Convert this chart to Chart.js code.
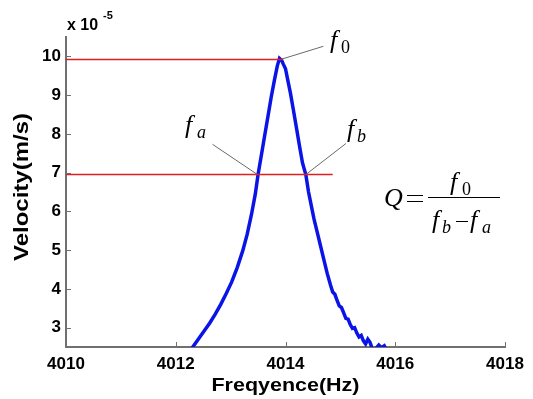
<!DOCTYPE html>
<html>
<head>
<meta charset="utf-8">
<script src="https://cdn.jsdelivr.net/npm/chart.js@4/dist/chart.umd.min.js"></script>
<style>
  html, body { margin: 0; padding: 0; background: #fff; }
</style>
</head>
<body>
<canvas id="myChart" width="533" height="399"></canvas>
<script>
// frequency (Hz) and velocity (x 1e-5 m/s)
const freqs = [4012.25, 4012.32, 4012.42, 4012.52, 4012.62, 4012.72, 4012.82, 4012.92, 4013.02, 4013.12,
  4013.22, 4013.30, 4013.38, 4013.45, 4013.50, 4013.56, 4013.62, 4013.68, 4013.74, 4013.80,
  4013.85, 4013.89, 4013.93, 4013.96, 4014.00, 4014.04, 4014.09, 4014.14, 4014.20, 4014.26,
  4014.31, 4014.37, 4014.42, 4014.47, 4014.52, 4014.58, 4014.64, 4014.70, 4014.76, 4014.82,
  4014.86, 4014.90, 4014.94, 4014.98, 4015.02, 4015.06, 4015.10, 4015.14, 4015.18, 4015.22,
  4015.26, 4015.30, 4015.34, 4015.38, 4015.42, 4015.46, 4015.50, 4015.54, 4015.58, 4015.64,
  4015.70, 4015.75, 4015.80, 4015.85];
const velocity = [2.38, 2.52, 2.72, 2.92, 3.12, 3.35, 3.60, 3.88, 4.18, 4.55,
  4.98, 5.40, 5.92, 6.45, 6.95, 7.45, 7.95, 8.45, 8.95, 9.40,
  9.75, 9.95, 9.90, 9.80, 9.68, 9.40, 9.05, 8.65, 8.15, 7.65,
  7.25, 6.95, 6.50, 6.15, 5.80, 5.45, 5.10, 4.75, 4.40, 4.10,
  3.92, 3.86, 3.70, 3.56, 3.52, 3.38, 3.24, 3.22, 3.08, 2.98,
  3.00, 2.86, 2.76, 2.80, 2.66, 2.58, 2.70, 2.62, 2.46, 2.45,
  2.55, 2.48, 2.53, 2.40];

const xTicks = [4010, 4012, 4014, 4016, 4018];
const yTicks = [3, 4, 5, 6, 7, 8, 9, 10];

// reference levels
const peakLevelX = [4010, 4013.95];
const peakLevelY = [9.92, 9.92];
const halfLevelX = [4010, 4014.86];
const halfLevelY = [6.95, 6.95];

// leader lines for the f0 / fa / fb labels
const f0LeaderX = [4013.91, 4014.69];
const f0LeaderY = [9.92, 10.26];
const faLeaderX = [4012.67, 4013.49];
const faLeaderY = [7.73, 6.95];
const fbLeaderX = [4014.37, 4015.10];
const fbLeaderY = [6.95, 7.75];

const toPts = (xs, ys) => xs.map((x, i) => ({ x: x, y: ys[i] }));

const serif = "'Liberation Serif', 'Times New Roman', serif";
const sans = "'Liberation Sans', Arial, sans-serif";

function fLabel(ctx, x, y, sub, gap) {
  ctx.font = "italic 26px " + serif;
  ctx.fillText("f", x, y);
  ctx.font = (sub === "0" ? "" : "italic ") + "18px " + serif;
  ctx.fillText(sub, x + gap, y + 5);
}

// stretched bold text, drawn along the given angle
function stretchedText(ctx, text, cx, cy, size, length, angle) {
  ctx.save();
  ctx.font = "bold " + size + "px " + sans;
  const w = ctx.measureText(text).width;
  ctx.translate(cx, cy);
  ctx.rotate(angle);
  ctx.scale(length / w, 1);
  ctx.textAlign = "center";
  ctx.textBaseline = "middle";
  ctx.fillText(text, 0, 0);
  ctx.restore();
}

const decorations = {
  id: "decorations",
  afterDraw(chart) {
    const ctx = chart.ctx;
    const xs = chart.scales.x, ys = chart.scales.y;
    const area = chart.chartArea;
    ctx.save();

    // inward tick marks
    ctx.strokeStyle = "#707070";
    ctx.lineWidth = 1;
    ctx.beginPath();
    xTicks.forEach(v => {
      const px = Math.round(xs.getPixelForValue(v)) + 0.5;
      ctx.moveTo(px, area.bottom);
      ctx.lineTo(px, area.bottom - 5);
    });
    yTicks.forEach(v => {
      const py = Math.round(ys.getPixelForValue(v)) + 0.5;
      ctx.moveTo(area.left, py);
      ctx.lineTo(area.left + 5, py);
    });
    ctx.stroke();

    ctx.fillStyle = "#000";
    ctx.textBaseline = "alphabetic";

    // axis titles
    stretchedText(ctx, "Freqyence(Hz)", (area.left + area.right) / 2, 386, 19, 148, 0);
    stretchedText(ctx, "Velocity(m/s)", 22, 187, 20, 148, -Math.PI / 2);

    // exponent label
    ctx.font = "bold 16px " + sans;
    ctx.fillText("x 10", 67, 30);
    ctx.font = "bold 11px " + sans;
    ctx.fillText("-5", 103, 19);

    // f labels next to leader lines
    fLabel(ctx, 330, 48, "0", 11);
    fLabel(ctx, 185, 133, "a", 12);
    fLabel(ctx, 347, 137, "b", 10);

    // Q formula
    ctx.font = "italic 26px " + serif;
    ctx.fillText("Q", 384, 206);
    ctx.strokeStyle = "#000";
    ctx.lineWidth = 1;
    ctx.beginPath();
    ctx.moveTo(407, 195.5);
    ctx.lineTo(423, 195.5);
    ctx.moveTo(407, 201.5);
    ctx.lineTo(423, 201.5);
    ctx.moveTo(428, 197.5);
    ctx.lineTo(500, 197.5);
    ctx.moveTo(456, 221.5);
    ctx.lineTo(468, 221.5);
    ctx.stroke();
    fLabel(ctx, 450, 190, "0", 12);
    fLabel(ctx, 432, 228, "b", 10);
    fLabel(ctx, 470, 228, "a", 12);

    ctx.restore();
  }
};

const ctx = document.getElementById("myChart").getContext("2d");
new Chart(ctx, {
  type: "line",
  data: {
    datasets: [
      { data: toPts(peakLevelX, peakLevelY), borderColor: "#e02020", borderWidth: 1.5, pointRadius: 0 },
      { data: toPts(halfLevelX, halfLevelY), borderColor: "#e02020", borderWidth: 1.5, pointRadius: 0 },
      { data: toPts(f0LeaderX, f0LeaderY), borderColor: "#6a6a6a", borderWidth: 1, pointRadius: 0 },
      { data: toPts(faLeaderX, faLeaderY), borderColor: "#6a6a6a", borderWidth: 1, pointRadius: 0 },
      { data: toPts(fbLeaderX, fbLeaderY), borderColor: "#6a6a6a", borderWidth: 1, pointRadius: 0 },
      { data: toPts(freqs, velocity), borderColor: "#0b14e6", borderWidth: 3.5, pointRadius: 0, tension: 0 }
    ]
  },
  options: {
    responsive: false,
    animation: false,
    layout: { padding: { top: 37, right: 28, left: 0, bottom: 0 } },
    plugins: {
      legend: { display: false },
      tooltip: { enabled: false }
    },
    scales: {
      x: {
        type: "linear",
        min: 4010,
        max: 4018,
        afterBuildTicks: (scale) => { scale.ticks = xTicks.map(v => ({ value: v })); },
        afterFit: (scale) => { scale.height = 52; },
        grid: { drawOnChartArea: false, drawTicks: false },
        border: { color: "#707070", width: 2 },
        ticks: {
          color: "#000",
          padding: 7,
          maxRotation: 0,
          callback: (v) => String(v),
          font: { family: sans, size: 17, weight: "bold" }
        }
      },
      y: {
        min: 2.5,
        max: 10.5,
        afterBuildTicks: (scale) => { scale.ticks = yTicks.map(v => ({ value: v })); },
        afterFit: (scale) => { scale.width = 66; },
        grid: { drawOnChartArea: false, drawTicks: false },
        border: { color: "#707070", width: 2 },
        ticks: {
          color: "#000",
          padding: 5,
          callback: (v) => String(v),
          font: { family: sans, size: 17, weight: "bold" }
        }
      }
    }
  },
  plugins: [decorations]
});
</script>
</body>
</html>
